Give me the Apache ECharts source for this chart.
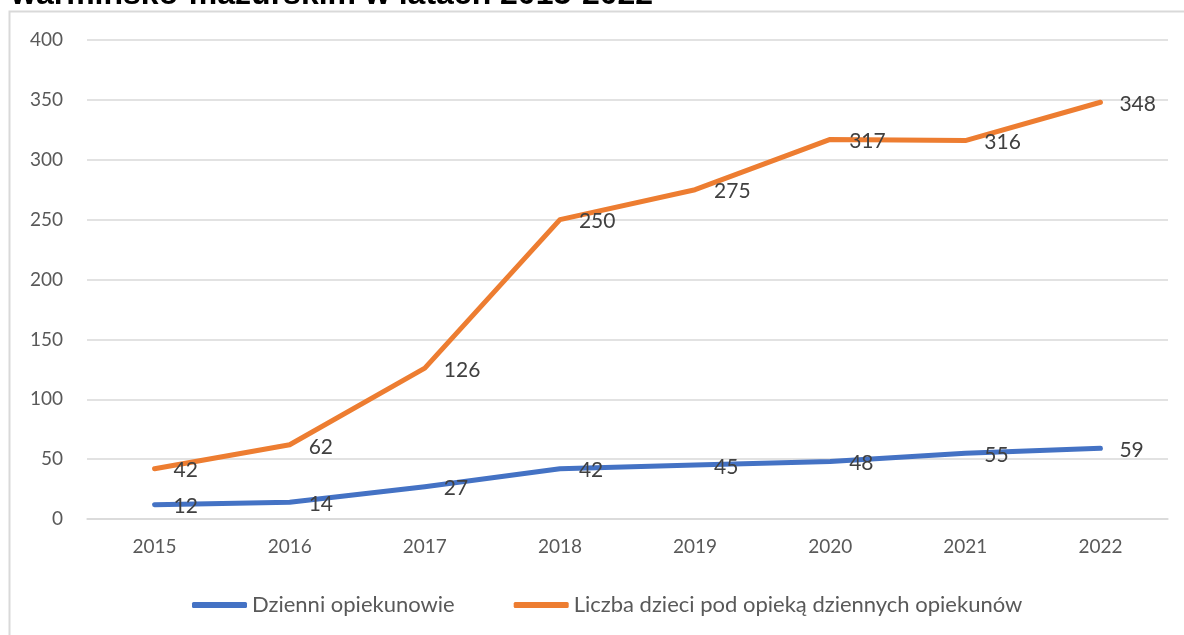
<!DOCTYPE html>
<html><head><meta charset="utf-8">
<script src="https://cdn.jsdelivr.net/npm/echarts@6/dist/echarts.min.js"></script>
<style>html,body{margin:0;padding:0;background:#fff}#c{width:1184px;height:635px}</style>
</head><body><div id="c"></div>
<script>
const titleText = 'warmińsko-mazurskim w latach 2015-2022';
const years = ['2015','2016','2017','2018','2019','2020','2021','2022'];
const seriesNames = ['Dzienni opiekunowie', 'Liczba dzieci pod opieką dziennych opiekunów'];
const opiekunowie = [12, 14, 27, 42, 45, 48, 55, 59];
const dzieci = [42, 62, 126, 250, 275, 317, 316, 348];
const colors = ['#4472C4', '#ED7D31'];
const FONT = 'Lato, "Open Sans", sans-serif';

const chart = echarts.init(document.getElementById('c'), null, {renderer: 'canvas'});
function mkSeries(name, data, color) {
  return {
    name: name, type: 'line', data: data, symbol: 'circle', symbolSize: 0.01, showSymbol: true,
    lineStyle: {color: color, width: 5, cap: 'round', join: 'round'},
    itemStyle: {color: color},
    label: {show: true, position: 'right', distance: 19, color: '#404040', fontSize: 21, fontFamily: FONT, offset: [0, 2]},
    emphasis: {disabled: true}
  };
}
chart.setOption({
  animation: false,
  backgroundColor: '#fff',
  graphic: [{
    type: 'rect', shape: {x: 9.5, y: 11.5, width: 1300, height: 700},
    style: {fill: 'none', stroke: '#D9D9D9', lineWidth: 2}, silent: true, z: -1
  }],
  title: {
    text: titleText, left: 6, top: -26,
    textStyle: {fontFamily: '"Liberation Sans", Arial, sans-serif', fontWeight: 'bold', fontSize: 32, color: '#000'}
  },
  legend: {
    bottom: 14, left: 187, itemWidth: 55, itemHeight: 6, itemGap: 59,
    icon: 'roundRect',
    textStyle: {fontFamily: FONT, fontSize: 22, color: '#595959', padding: [0, 0, 0, 0]},
    data: seriesNames
  },
  grid: {left: 87, right: 16, top: 40, bottom: 116, containLabel: false},
  xAxis: {
    type: 'category', data: years, boundaryGap: true,
    axisLine: {show: true, lineStyle: {color: '#D9D9D9', width: 1.5}},
    axisTick: {show: false},
    axisLabel: {color: '#595959', fontSize: 19, fontFamily: FONT, margin: 18}
  },
  yAxis: {
    type: 'value', min: 0, max: 400, interval: 50,
    axisLine: {show: false}, axisTick: {show: false},
    splitLine: {lineStyle: {color: '#D9D9D9', width: 1.5}},
    axisLabel: {color: '#595959', fontSize: 19, fontFamily: FONT, margin: 24}
  },
  series: [mkSeries(seriesNames[0], opiekunowie, colors[0]), mkSeries(seriesNames[1], dzieci, colors[1])]
});
</script></body></html>
